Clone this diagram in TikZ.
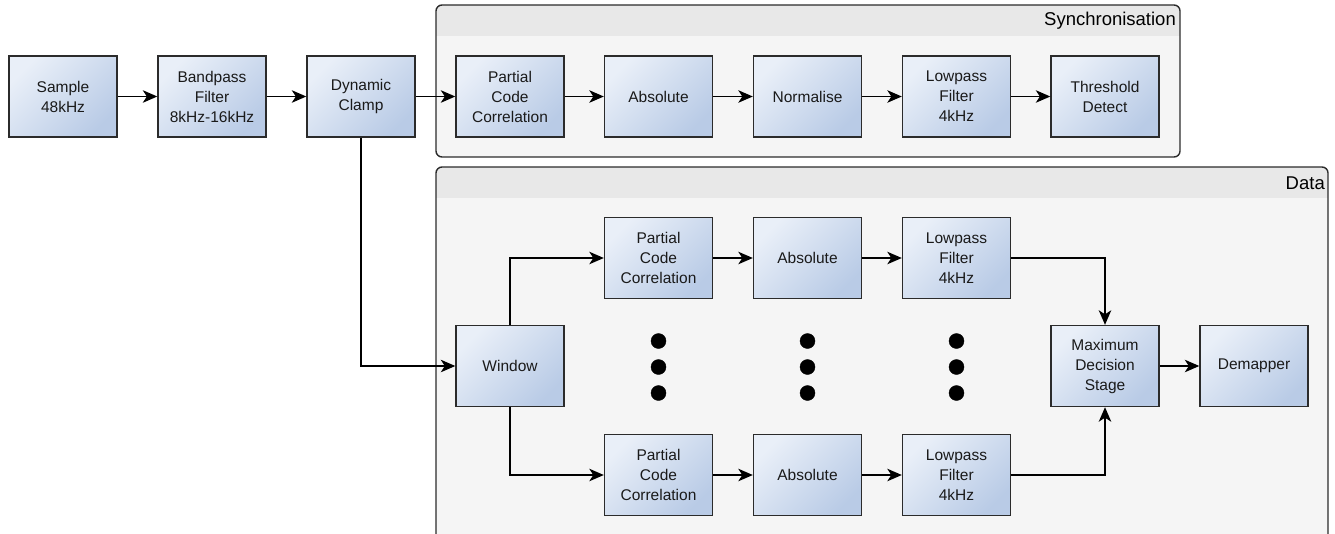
\documentclass[tikz,border=0pt]{standalone}
\usepackage{fontspec}
\setmainfont{Liberation Sans}
\usetikzlibrary{arrows.meta}

\definecolor{boxlight}{HTML}{E9EFF8}
\definecolor{boxdark}{HTML}{B9CBE6}
\definecolor{groupbody}{HTML}{F5F5F5}
\definecolor{grouphead}{HTML}{E8E8E8}
\definecolor{edgegrey}{HTML}{2B2B2B}
\definecolor{textgrey}{HTML}{1A1A1A}

\tikzset{
  block/.style={draw=edgegrey, line width=1.4pt, top color=boxlight, bottom color=boxdark,
    shading angle=45, minimum width=108pt, minimum height=81pt, inner sep=0pt,
    align=center, text=textgrey, font=\fontsize{15.5}{20}\selectfont},
  arr/.style={line width=1.3pt, -{Stealth[length=14.5pt,width=12.5pt,inset=4pt]}},
  dot/.style={circle, fill=black, draw=black, minimum size=15pt, inner sep=0pt},
  grouptitle/.style={text=black, font=\fontsize{18.5}{22}\selectfont, inner sep=0pt},
  groupframe/.style={draw=edgegrey, line width=1.4pt, rounded corners=6pt}
}

\begin{document}
\begin{tikzpicture}[x=1pt,y=-1pt]
\useasboundingbox (0,0) rectangle (1335,533);
\clip (0,0) rectangle (1335,533);

% synchronisation group
\begin{scope}
  \clip[rounded corners=6pt] (436,5) rectangle (1180,157);
  \fill[groupbody] (436,5) rectangle (1180,157);
  \fill[grouphead] (436,5) rectangle (1180,36);
\end{scope}
\draw[groupframe] (436,5) rectangle (1180,157);
\node[grouptitle, anchor=east] (synctitle) at (1176,21) {Synchronisation};

% data group (runs past the lower edge)
\begin{scope}
  \clip[rounded corners=6pt] (436,167) rectangle (1328,560);
  \fill[groupbody] (436,167) rectangle (1328,560);
  \fill[grouphead] (436,167) rectangle (1328,198);
\end{scope}
\draw[groupframe] (436,167) rectangle (1328,560);
\node[grouptitle, anchor=east] (datatitle) at (1325,183) {Data};

% front end
\node[block] (sample) at (63,96.5) {Sample\\48kHz};
\node[block] (band) at (212,96.5) {Bandpass\\Filter\\8kHz-16kHz};
\node[block] (clamp) at (361,96.5) {Dynamic\\Clamp};

% synchronisation chain
\node[block] (spcc) at (510,96.5) {Partial\\Code\\Correlation};
\node[block] (sabs) at (658.5,96.5) {Absolute};
\node[block] (snorm) at (807.5,96.5) {Normalise};
\node[block] (slp) at (956.5,96.5) {Lowpass\\Filter\\4kHz};
\node[block] (sthr) at (1105,96.5) {Threshold\\Detect};

% data chain
\node[block] (win) at (510,366) {Window};
\node[block] (tpcc) at (658.5,258) {Partial\\Code\\Correlation};
\node[block] (tabs) at (807.5,258) {Absolute};
\node[block] (tlp) at (956.5,258) {Lowpass\\Filter\\4kHz};
\node[block] (bpcc) at (658.5,475) {Partial\\Code\\Correlation};
\node[block] (babs) at (807.5,475) {Absolute};
\node[block] (blp) at (956.5,475) {Lowpass\\Filter\\4kHz};
\node[block] (maxd) at (1105,366) {Maximum\\Decision\\Stage};
\node[block] (demap) at (1254,366) {Demapper};

% ellipsis dots between the two branches
\foreach \c/\x in {1/658.5, 2/807.5, 3/956.5}{
  \node[dot] (dot\c a) at (\x,341) {};
  \node[dot] (dot\c b) at (\x,367) {};
  \node[dot] (dot\c c) at (\x,393) {};
}

% connectors
\draw[arr] (sample) -- (band);
\draw[arr] (band) -- (clamp);
\draw[arr] (clamp) -- (spcc);
\draw[arr] (spcc) -- (sabs);
\draw[arr] (sabs) -- (snorm);
\draw[arr] (snorm) -- (slp);
\draw[arr] (slp) -- (sthr);

\draw[arr] (clamp.south) |- (win.west);
\draw[arr] (win.north) |- (tpcc.west);
\draw[arr] (win.south) |- (bpcc.west);
\draw[arr] (tpcc) -- (tabs);
\draw[arr] (tabs) -- (tlp);
\draw[arr] (bpcc) -- (babs);
\draw[arr] (babs) -- (blp);
\draw[arr] (tlp.east) -| (maxd.north);
\draw[arr] (blp.east) -| (maxd.south);
\draw[arr] (maxd) -- (demap);
\end{tikzpicture}
\end{document}
